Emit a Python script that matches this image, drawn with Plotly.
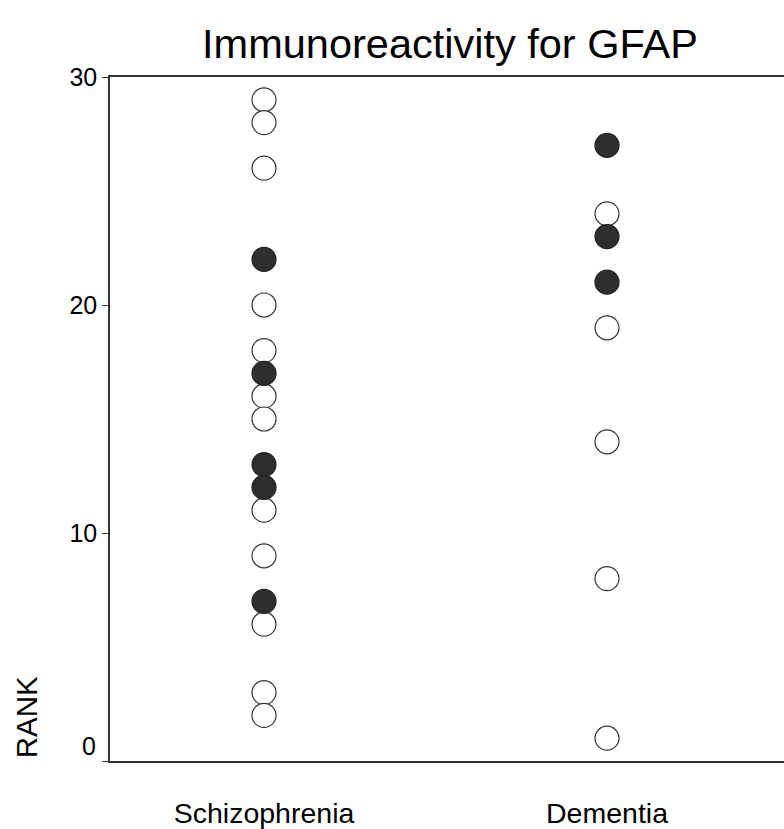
import plotly.graph_objects as go

categories = ["Schizophrenia", "Dementia"]
schiz_open = [29, 28, 26, 20, 18, 16, 15, 11, 9, 6, 3, 2]
schiz_filled = [22, 17, 13, 12, 7]
dem_open = [24, 19, 14, 8, 1]
dem_filled = [27, 23, 21]
y_ticks = [0, 10, 20, 30]
y_tick_labels = ["", "10", "20", "30"]

FONT = "Liberation Sans, Arial, sans-serif"

fig = go.Figure()

open_marker = dict(size=24, color="white", line=dict(color="#333333", width=1.2), symbol="circle")
filled_marker = dict(size=24, color="#2e2e2e", line=dict(color="#222222", width=1.2), symbol="circle")

fig.add_trace(go.Scatter(x=[1] * len(schiz_open), y=schiz_open, mode="markers", marker=open_marker, showlegend=False))
fig.add_trace(go.Scatter(x=[2] * len(dem_open), y=dem_open, mode="markers", marker=open_marker, showlegend=False))
fig.add_trace(go.Scatter(x=[1] * len(schiz_filled), y=schiz_filled, mode="markers", marker=filled_marker, showlegend=False))
fig.add_trace(go.Scatter(x=[2] * len(dem_filled), y=dem_filled, mode="markers", marker=filled_marker, showlegend=False))

fig.update_layout(
    width=784,
    height=829,
    margin=dict(l=110, r=0, t=77, b=63),
    paper_bgcolor="white",
    plot_bgcolor="white",
    font=dict(family=FONT, color="black"),
    title=dict(
        text="Immunoreactivity for GFAP",
        font=dict(size=41.5, family=FONT, color="black"),
        xref="container", yref="container",
        x=450 / 784, y=1 - 43 / 829,
        xanchor="center", yanchor="middle",
    ),
    xaxis=dict(
        range=[0.551, 2.516],
        tickmode="array",
        tickvals=[1, 2],
        ticktext=categories,
        showgrid=False,
        zeroline=False,
        showline=True,
        linecolor="#333333",
        linewidth=1.5,
        mirror=True,
        ticks="",
        ticklabelstandoff=26,
        tickfont=dict(size=28.5, family=FONT, color="black"),
    ),
    yaxis=dict(
        range=[0, 30],
        tickmode="array",
        tickvals=y_ticks,
        ticktext=y_tick_labels,
        showgrid=False,
        zeroline=False,
        showline=True,
        linecolor="#333333",
        linewidth=1.5,
        ticks="outside",
        ticklen=6,
        tickcolor="#333333",
        tickwidth=1.2,
        tickfont=dict(size=25, family=FONT, color="black"),
    ),
    annotations=[
        dict(
            text="RANK",
            xref="paper", yref="y",
            x=(26 - 110) / 674, y=(766 - 722) / 22.97,
            xanchor="center", yanchor="middle",
            textangle=-90,
            showarrow=False,
            font=dict(size=29.5, family=FONT, color="black"),
        ),
        dict(
            text="0",
            xref="paper", yref="y",
            x=(98 - 110) / 674, y=(766 - 751) / 22.97,
            xanchor="right", yanchor="middle",
            showarrow=False,
            font=dict(size=25, family=FONT, color="black"),
        ),
    ],
)

fig.write_html(
    "out.html",
    config={"displayModeBar": False},
    post_script="document.body.style.margin='0';document.body.style.overflow='hidden';",
)
